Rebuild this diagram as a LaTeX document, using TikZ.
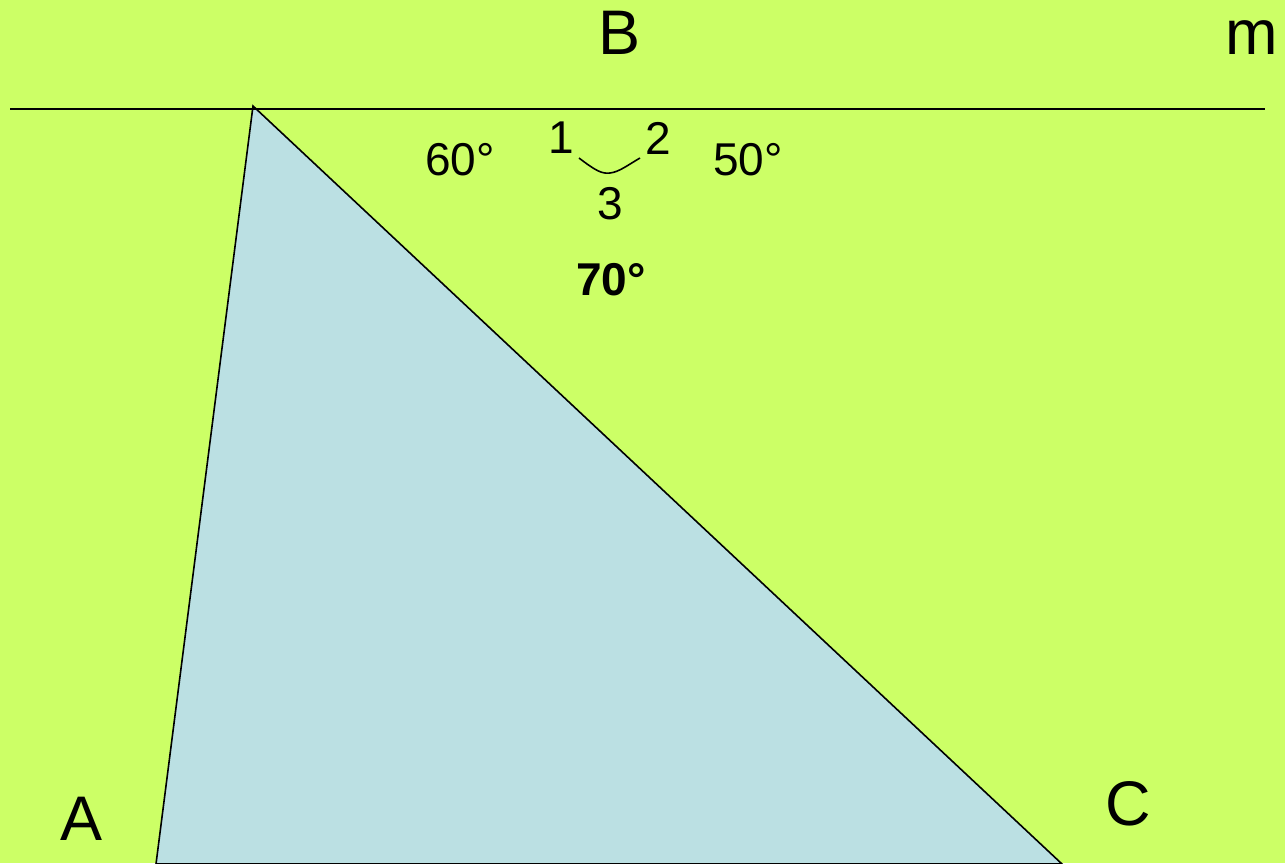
\documentclass[tikz,border=0pt]{standalone}
\usepackage{fontspec}
\setmainfont{Liberation Sans}
\definecolor{bgreen}{HTML}{CCFF66}
\definecolor{tblue}{HTML}{BBE0E3}
\begin{document}
\begin{tikzpicture}[x=1pt,y=-1pt,
  big/.style={inner sep=0pt,font=\fontsize{63}{70}\selectfont},
  small/.style={inner sep=0pt,font=\fontsize{46}{52}\selectfont},
  edge/.style={draw=black,line width=1.6pt}]
\fill[bgreen] (0,0) rectangle (1285,863);
\useasboundingbox (0,0) rectangle (1285,863);
\coordinate (B) at (253,106);
\coordinate (A) at (156,864);
\coordinate (C) at (1062,864);
\coordinate (mL) at (10,109);
\coordinate (mR) at (1265,109);
\filldraw[fill=tblue,edge,line join=miter] (B) -- (A) -- (C) -- cycle;
\draw[edge] (mL) -- (mR);
\node[big] (lB) at (619.5,32.5) {B};
\node[big] (lm) at (1252,38) {m};
\node[big] (lA) at (82,819) {A};
\node[big] (lC) at (1128,803.5) {C};
\node[small] (a60) at (460,160) {60°};
\node[small] (a50) at (748,160) {50°};
\node[small] (n1) at (561,138) {1};
\node[small] (n2) at (658,138) {2};
\node[small] (n3) at (610,204) {3};
\node[small,font=\fontsize{46}{52}\selectfont\bfseries] (a70) at (611,280) {70°};
\coordinate (arcL) at (579,158);
\coordinate (arcM) at (610,173);
\coordinate (arcR) at (640,158);
\draw[line width=1.6pt] (arcL) .. controls (596,171) and (602,174) .. (arcM) .. controls (619,172) and (628,165) .. (arcR);
\end{tikzpicture}
\end{document}
